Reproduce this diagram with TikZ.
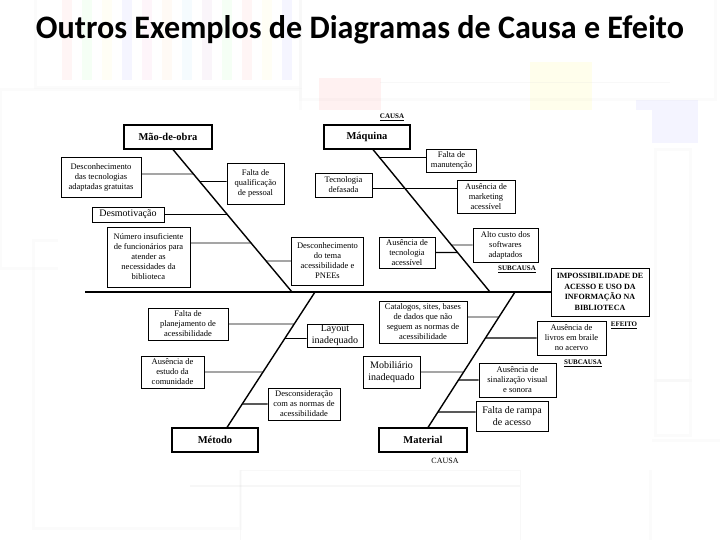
\documentclass[tikz,border=0pt]{standalone}
\usepackage{fontspec}
\setmainfont{Liberation Serif}
\newfontfamily\titlefont{Carlito}
\usetikzlibrary{calc}
\newcommand{\tobone}[4][conn]{%
  \coordinate (tbA) at (#2);
  \coordinate (tbB) at ($(tbA)+(10,0)$);
  \draw[#1] (tbA) -- (intersection of #3--#4 and tbA--tbB);}
\begin{document}
\begin{tikzpicture}[x=1pt,y=-1pt,
  main/.style={draw, line width=1.1pt, font=\bfseries\fontsize{10.5}{12}\selectfont, inner sep=0pt},
  sub/.style={draw, line width=0.7pt, font=\fontsize{8.5}{10}\selectfont, align=center, inner sep=1pt},
  big/.style={font=\fontsize{10}{11.5}\selectfont},
  bone/.style={line width=1.4pt},
  conn/.style={line width=0.7pt},
  connb/.style={line width=1.2pt},
  lab/.style={font=\bfseries\fontsize{7}{8}\selectfont, inner sep=0.5pt},
  faint/.style={draw=gray!20, line width=3pt},
]
\useasboundingbox (0,0) rectangle (720,540);
\fill[white] (0,0) rectangle (720,540);
% ---------- faded background slides ----------
\begin{scope}[opacity=0.12]
  \draw[faint] (35,-5) rectangle (300,88);
  \foreach \x/\c in {62/red,82/green,102/yellow,122/blue,142/magenta,162/orange,182/cyan,202/violet,222/green,242/red,262/yellow,282/blue}
    \fill[\c!30] (\x,0) rectangle ++(10,80);
  \draw[faint] (300,-5) rectangle (715,100);
  \fill[red!45] (319,78) rectangle (381,112);
  \fill[yellow!60] (530,62) rectangle (592,112);
  \fill[blue!35] (636,100) rectangle (698,143);
  \draw[gray!40, line width=0.8pt] (380,82) -- (670,82);
  \draw[faint] (0,90) rectangle (300,268);
  \draw[faint] (33,240) rectangle (240,528);
  \draw[faint] (655,150) rectangle (690,380);
  \draw[faint] (655,380) rectangle (690,435);
  \draw[faint] (650,440) rectangle (730,545);
  \draw[gray!50, line width=1.5pt] (190,486) -- (520,486);
  \draw[gray!40, line width=1pt] (240,470) rectangle (520,545);
  \begin{scope}
    \clip (0,470) rectangle (720,540);
    \fill[magenta!30] (484,610) -- ++(180:230 and 124) arc[start angle=180, end angle=115, x radius=230, y radius=124] -- cycle;
    \fill[red!25] (484,610) -- ++(115:230 and 124) arc[start angle=115, end angle=100, x radius=230, y radius=124] -- cycle;
    \fill[blue!35] (484,610) -- ++(80:230 and 124) arc[start angle=80, end angle=55, x radius=230, y radius=124] -- cycle;
    \fill[yellow!50] (484,610) -- ++(55:230 and 124) arc[start angle=55, end angle=35, x radius=230, y radius=124] -- cycle;
    \fill[green!35] (484,610) -- ++(35:230 and 124) arc[start angle=35, end angle=10, x radius=230, y radius=124] -- cycle;
    \fill[red!35] (484,610) -- ++(10:230 and 124) arc[start angle=10, end angle=0, x radius=230, y radius=124] -- cycle;
    \fill[cyan!25] (484,610) -- ++(180:230 and 124) arc[start angle=180, end angle=160, x radius=230, y radius=124] -- cycle;
  \end{scope}
\end{scope}
% ---------- title ----------
\node[anchor=base, inner sep=0pt] (title) at (360,38.5)
  {\resizebox{648pt}{23pt}{\titlefont\bfseries Outros Exemplos de Diagramas de Causa e Efeito}};
% ---------- diagram panel ----------
\fill[white] (58,110) rectangle (652,470);
% main boxes
\node[main, minimum width=88pt, minimum height=24pt] (mao) at (168,137) {Mão-de-obra};
\node[main, minimum width=86pt, minimum height=24pt] (maq) at (367,137) {Máquina};
\node[main, minimum width=86pt, minimum height=24pt] (met) at (215,440) {Método};
\node[main, minimum width=88pt, minimum height=24pt] (mat) at (423,440) {Material};
\node[draw, line width=0.9pt, align=center, inner sep=0pt, minimum width=98pt, minimum height=48pt,
      font=\bfseries\fontsize{8}{10.5}\selectfont] (ef) at (600,292)
  {IMPOSSIBILIDADE DE\\ACESSO E USO DA\\INFORMAÇÃO NA\\BIBLIOTECA};
% labels
\node[lab] (lc1) at (392,117) {\underline{CAUSA}};
\node[lab] (ls1) at (517,269) {\underline{SUBCAUSA}};
\node[lab] (lef) at (624,325) {\underline{EFEITO}};
\node[lab] (ls2) at (583,363) {\underline{SUBCAUSA}};
\node[font=\fontsize{8}{9}\selectfont, inner sep=0.5pt] (lc2) at (445,461) {CAUSA};
% spine and bones
\coordinate (sp0) at (85,292);
\coordinate (j1) at (292,292);
\coordinate (j2) at (490,292);
\coordinate (j3) at (315,292);
\coordinate (j4) at (515,292);
\coordinate (mtop) at ($(mao.south)+(5,0)$);
\coordinate (qtop) at ($(maq.south)+(6,0)$);
\coordinate (ttop) at ($(met.north)+(12,0)$);
\coordinate (rtop) at ($(mat.north)+(5,0)$);
\draw[bone] (sp0) -- (ef.west);
\draw[bone] (mtop) -- (j1);
\draw[bone] (qtop) -- (j2);
\draw[bone] (j3) -- (ttop);
\draw[bone] (j4) -- (rtop);
% Mão-de-obra subcauses
\node[sub, minimum width=80pt, minimum height=40pt] (a1) at (101,177) {Desconhecimento\\das tecnologias\\adaptadas gratuitas};
\node[sub, minimum width=57pt, minimum height=41pt] (a2) at (255.5,183.5) {Falta de\\qualificação\\de pessoal};
\node[sub, big, minimum width=72pt, minimum height=15pt] (a3) at (128,214.5) {Desmotivação};
\node[sub, minimum width=83pt, minimum height=60pt] (a4) at (148.5,257) {Número insuficiente\\de funcionários para\\atender as\\necessidades da\\biblioteca};
\node[sub, minimum width=72pt, minimum height=48pt] (a5) at (327.5,261) {Desconhecimento\\do tema\\acessibilidade e\\PNEEs};
\tobone{$(a1.east)+(0,-3)$}{mtop}{j1}
\tobone{$(a2.west)+(0,-2)$}{mtop}{j1}
\tobone{a3.east}{mtop}{j1}
\tobone{$(a4.east)+(0,-14)$}{mtop}{j1}
\tobone{a5.west}{mtop}{j1}
% Máquina subcauses
\node[sub, minimum width=50pt, minimum height=23pt] (b1) at (451.5,160.5) {Falta de\\manutenção};
\node[sub, minimum width=57pt, minimum height=24pt] (b2) at (343.5,185) {Tecnologia\\defasada};
\node[sub, minimum width=58pt, minimum height=33pt] (b3) at (486,196.5) {Ausência de\\marketing\\acessível};
\node[sub, minimum width=65pt, minimum height=34pt] (b4) at (505.5,245) {Alto custo dos\\softwares\\adaptados};
\node[sub, minimum width=56pt, minimum height=31pt] (b5) at (407,252.5) {Ausência de\\tecnologia\\acessível};
\tobone{$(b1.west)+(0,-3)$}{qtop}{j2}
\coordinate (b2p) at ($(b2.east)+(0,3)$);
\draw[conn] (b2p) -- (b2p -| b3.west);
\tobone{b4.west}{qtop}{j2}
\tobone[connb]{b5.east}{qtop}{j2}
% Método subcauses
\node[sub, minimum width=80pt, minimum height=32pt] (c1) at (188,324) {Falta de\\planejamento de\\acessibilidade};
\node[sub, big, minimum width=56pt, minimum height=23pt] (c2) at (335,335.5) {Layout\\inadequado};
\node[sub, minimum width=63pt, minimum height=32pt] (c3) at (172.5,372) {Ausência de\\estudo da\\comunidade};
\node[sub, minimum width=72pt, minimum height=32pt] (c4) at (304,404) {Desconsideração\\com as normas de\\acessibilidade};
\tobone{c1.east}{j3}{ttop}
\tobone{$(c2.west)+(0,3)$}{j3}{ttop}
\tobone{c3.east}{j3}{ttop}
\tobone[connb]{c4.west}{j3}{ttop}
% Material subcauses
\node[sub, minimum width=88pt, minimum height=42pt] (d1) at (423,322) {Catalogos, sites, bases\\de dados que não\\seguem as normas de\\acessibilidade};
\node[sub, minimum width=69pt, minimum height=34pt] (d2) at (571.5,338) {Ausência de\\livros em braile\\no acervo};
\node[sub, big, minimum width=57pt, minimum height=32pt] (d3) at (391.5,372) {Mobiliário\\inadequado};
\node[sub, minimum width=77pt, minimum height=34pt] (d4) at (517.5,380) {Ausência de\\sinalização visual\\e sonora};
\node[sub, big, minimum width=72pt, minimum height=30pt] (d5) at (512,416) {Falta de rampa\\de acesso};
\tobone{$(d1.east)+(0,-5)$}{j4}{rtop}
\tobone[connb]{d2.west}{j4}{rtop}
\tobone{d3.east}{j4}{rtop}
\tobone[connb]{d4.west}{j4}{rtop}
\tobone[connb]{$(d5.west)+(0,-4)$}{j4}{rtop}
\end{tikzpicture}
\end{document}
